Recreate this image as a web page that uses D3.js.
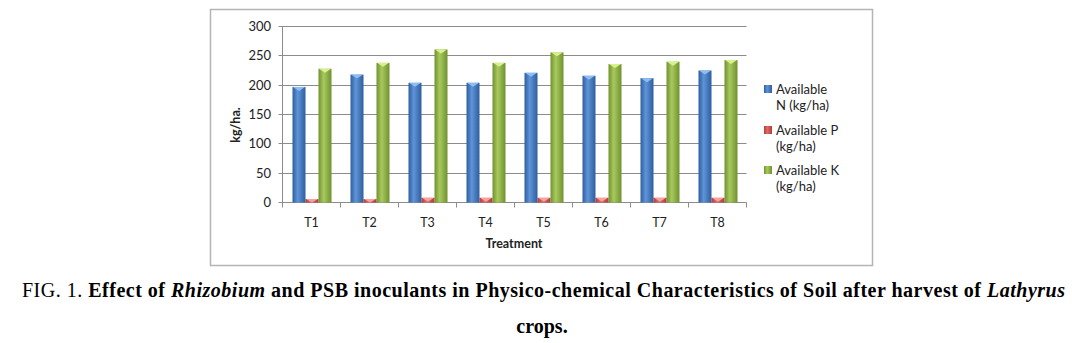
<!DOCTYPE html>
<html><head><meta charset="utf-8">
<script src="https://cdn.jsdelivr.net/npm/d3@7"></script>
<style>body{margin:0;background:#fff;} svg{display:block;}</style>
</head><body>
<svg id="c" width="1072" height="343"></svg>
<script>
const categories = ["T1","T2","T3","T4","T5","T6","T7","T8"];
const seriesNames = ["Available N (kg/ha)","Available P (kg/ha)","Available K (kg/ha)"];
const valuesN = [197,218,204,204,221,216,212,225];
const valuesP = [6,6,8,8,8,8,8,8];
const valuesK = [228,238,261,238,256,236,240,243];
const yTicks = [0,50,100,150,200,250,300];
const legendLines = [["Available","N (kg/ha)"],["Available P","(kg/ha)"],["Available K","(kg/ha)"]];
const colors = [
  {dark:"#2e5e9e", light:"#5f94d8", cap:"#8dbdf2"},
  {dark:"#b03c39", light:"#e46a66", cap:"#f5a3a0"},
  {dark:"#6f922e", light:"#a9c95f", cap:"#d9f08f"}
];
const series = [valuesN, valuesP, valuesK];

(function(){
const svg = d3.select("#c");
const defs = svg.append("defs");
colors.forEach((c,i)=>{
  const g = defs.append("linearGradient").attr("id","g"+i).attr("x1","0").attr("x2","1").attr("y1","0").attr("y2","0");
  g.append("stop").attr("offset","0%").attr("stop-color",c.dark);
  g.append("stop").attr("offset","40%").attr("stop-color",c.light);
  g.append("stop").attr("offset","100%").attr("stop-color",c.dark);
});

svg.append("rect").attr("x",210.5).attr("y",9.5).attr("width",662).attr("height",256)
  .attr("fill","#fff").attr("stroke","#b4b4b4").attr("stroke-width",1.5);

const pl=282.5, pr=746.5, pt=26.5, pb=202.5;
const font = "Lato, 'Open Sans', sans-serif";
const x = d3.scaleBand().domain(categories).range([pl,pr]).paddingInner(0).paddingOuter(0);
const y = d3.scaleLinear().domain([0,300]).range([pb,pt]);

svg.append("g").selectAll("line").data(yTicks).join("line")
  .attr("x1",pl-4).attr("x2",pr).attr("y1",d=>Math.round(y(d)-0.5)+0.5).attr("y2",d=>Math.round(y(d)-0.5)+0.5)
  .attr("stroke","#8c8c8c").attr("stroke-width",1);
svg.append("line").attr("x1",pl).attr("x2",pl).attr("y1",pt).attr("y2",pb)
  .attr("stroke","#8c8c8c");
svg.append("g").selectAll("text").data(yTicks).join("text")
  .attr("x",pl-11.5).attr("y",d=>y(d)).attr("dy","0.35em").attr("text-anchor","end")
  .attr("font-family",font).attr("font-size",13).attr("fill","#222")
  .text(d=>d);
const bounds = categories.map(c=>x(c)).concat([pr]);
svg.append("g").selectAll("line").data(bounds).join("line")
  .attr("x1",d=>d).attr("x2",d=>d).attr("y1",pb).attr("y2",pb+5)
  .attr("stroke","#8c8c8c");
svg.append("g").selectAll("text").data(categories).join("text")
  .attr("x",d=>x(d)+x.bandwidth()/2).attr("y",223).attr("dy","0.35em").attr("text-anchor","middle")
  .attr("font-family",font).attr("font-size",12.5).attr("fill","#222")
  .text(d=>d);

const bw = 13;
const off = (x.bandwidth()-3*bw)/2 + 0.5;
series.forEach((vals,si)=>{
  const g = svg.append("g");
  const c = colors[si];
  vals.forEach((v,i)=>{
    const bx = x(categories[i]) + off + si*bw;
    const by = y(v);
    g.append("rect").attr("x",bx).attr("y",by).attr("width",bw).attr("height",pb-by)
      .attr("fill","url(#g"+si+")");
    const capH = Math.min(4, pb-by);
    g.append("path")
      .attr("d",`M${bx+0.5},${by} L${bx+bw-0.5},${by} L${bx+bw/2},${by+capH} Z`)
      .attr("fill",c.cap);
  });
});

svg.append("text").attr("transform","translate(240,125) rotate(-90)").attr("text-anchor","middle")
  .attr("font-family",font).attr("font-size",12.5).attr("font-weight","bold").attr("fill","#222")
  .text("kg/ha.");
svg.append("text").attr("x",514).attr("y",244).attr("dy","0.35em").attr("text-anchor","middle")
  .attr("font-family",font).attr("font-size",12.5).attr("font-weight","bold").attr("fill","#222")
  .text("Treatment");

const legY = [89,130,170];
legendLines.forEach((lines,i)=>{
  svg.append("rect").attr("x",764).attr("y",legY[i]-4).attr("width",8).attr("height",8)
    .attr("fill","url(#g"+i+")");
  lines.forEach((t,j)=>{
    svg.append("text").attr("x",776).attr("y",legY[i]+j*16.5).attr("dy","0.35em")
      .attr("font-family",font).attr("font-size",13).attr("fill","#222")
      .text(t);
  });
});

const cap = svg.append("text").attr("x",22).attr("y",297).attr("text-anchor","start")
  .attr("textLength",1043).attr("lengthAdjust","spacing")
  .attr("font-family","'Liberation Serif', 'Times New Roman', serif").attr("font-size",20).attr("fill","#000");
cap.append("tspan").text("FIG. 1. ");
cap.append("tspan").attr("font-weight","bold").text("Effect of ");
cap.append("tspan").attr("font-weight","bold").attr("font-style","italic").text("Rhizobium");
cap.append("tspan").attr("font-weight","bold").text(" and PSB inoculants in Physico-chemical Characteristics of Soil after harvest of ");
cap.append("tspan").attr("font-weight","bold").attr("font-style","italic").text("Lathyrus");
svg.append("text").attr("x",542).attr("y",333).attr("text-anchor","middle")
  .attr("font-family","'Liberation Serif', 'Times New Roman', serif").attr("font-size",20).attr("font-weight","bold")
  .text("crops.");
})();
</script>
</body></html>
